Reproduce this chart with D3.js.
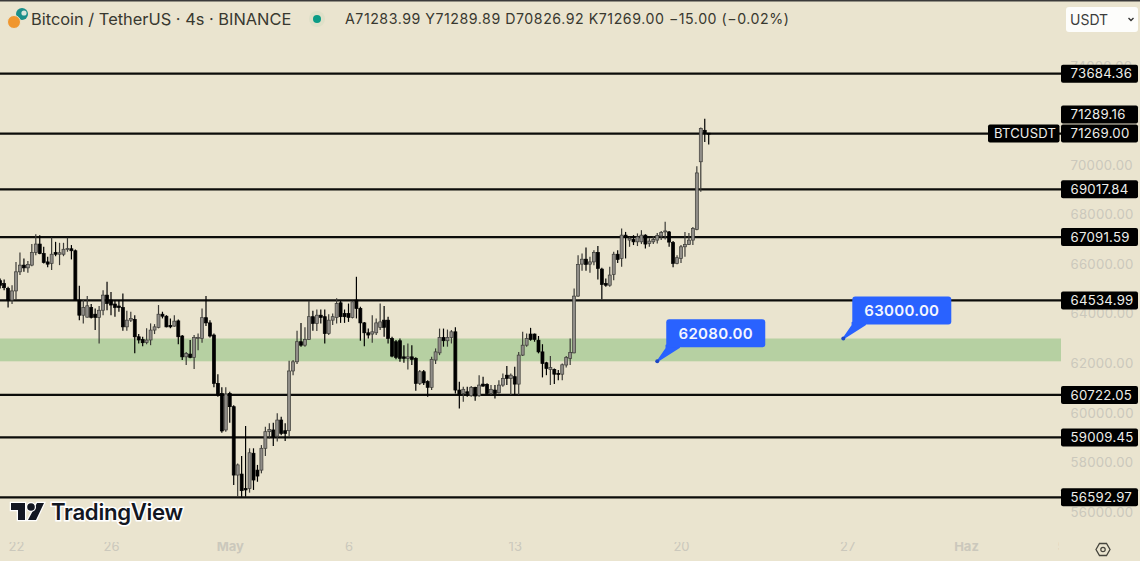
<!DOCTYPE html>
<html>
<head>
<meta charset="utf-8">
<script src="https://d3js.org/d3.v7.min.js"></script>
<style>
    html, body { margin: 0; padding: 0; background: #eae4cf; overflow: hidden; }
    svg { display: block; }
    text { font-family: "Inter", "Liberation Sans", sans-serif; }
</style>
</head>
<body>
<svg class="chart"></svg>
<script>
// 4h candles, first candle 21 Apr 08:00
var opens = [
    65330,65220,65020,64550,64920,65690,65960,65850,65960,66470,
    66810,66430,66090,66030,66470,66400,66400,66590,66620,66540,
    64550,63940,63860,64250,63980,63850,64140,64750,64550,64390,
    64310,64250,63470,63740,63770,63070,62960,62840,62940,63340,
    63450,63980,63900,63530,63500,63710,63100,62260,62370,62240,
    63000,63000,63840,63630,63140,61190,60780,59310,60780,60250,
    57490,57530,56950,56950,58370,57690,57690,58570,59240,59310,
    59060,59710,59280,59280,61690,62060,62870,62730,62960,63880,
    63610,63940,63880,63200,63740,63850,64440,64010,64010,63850,
    64550,64210,63630,63230,63180,63230,63450,63740,63740,63000,
    62870,62910,62260,62200,62260,62200,61190,61660,61260,61030,
    62130,62420,63040,62910,63040,63270,60920,60780,60850,60690,
    61030,60690,61160,61150,60780,60920,60810,61120,61520,61390,
    61460,61160,62330,62730,63180,63180,62930,62460,62020,61750,
    61750,61590,61560,61930,62200,62420,64710,66000,66200,66000,
    66090,66470,65800,65220,65150,65580,66400,66230,67170,66970,
    66990,66900,66900,67170,66830,66900,66970,67130,67300,67300,
    66870,66030,66230,66700,66790,66970,67400,70130,71400,71283.99];
var highs = [
    65420,65380,65090,65150,66090,66470,66230,66130,66810,67210,
    67170,66700,66300,67070,66900,66860,66860,67070,66770,66590,
    65130,64550,64710,64390,64210,64310,64950,65290,64880,64550,
    64550,64820,64120,64080,63940,63180,63070,63410,63610,63580,
    64350,64080,63940,63810,63940,63770,63140,62460,62940,63140,
    63200,64210,64710,63740,63200,61560,61030,61030,60850,60310,
    57960,58260,59470,58570,58570,57900,58700,59440,59580,59600,
    59980,59840,59580,62100,62130,63310,63630,63450,64520,64120,
    64170,64170,64170,63980,64010,64620,64520,64170,64410,64520,
    65490,64280,63670,63400,63940,63810,64410,64310,63880,63070,
    62940,63000,62730,62800,62730,62240,61730,61730,61320,62260,
    62600,63400,63400,63360,63340,63450,61260,61050,61050,61080,
    61050,61520,61460,61190,61120,61120,61320,61590,61890,61590,
    61860,62460,63270,63200,63430,63200,63100,62770,62060,62290,
    61790,61730,61990,62290,63000,65020,66360,66430,66670,66300,
    66560,66730,65850,65420,65890,66500,66560,67440,67300,67100,
    67170,67240,67370,67210,67040,67130,67260,67340,67710,67340,
    66930,66360,66770,67300,67260,67500,69950,71510,71870,71289.89];
var lows = [
    65020,64950,64250,64390,64550,65560,65690,65650,65920,66360,
    66400,66030,65870,65760,66320,65960,66320,66500,66190,64550,
    63740,63610,63850,63810,63340,62800,63940,64140,63940,63880,
    64080,63310,63310,63670,62400,62800,62690,62770,62730,63180,
    63410,63810,63450,63410,63470,62770,62130,61930,62200,61770,
    62530,62830,63500,63040,61030,60650,59200,59240,59600,57090,
    56620,56620,56620,56780,56890,57220,57560,58260,58970,58660,
    58840,59100,58860,59040,61520,61970,62670,62670,62940,63310,
    63300,63610,62800,63140,63540,63610,63630,63630,63670,63810,
    63810,62910,62690,63000,62830,63140,63340,63070,62800,62240,
    62160,62060,62020,61750,61930,60890,61120,61120,60650,60920,
    61970,62330,62670,62670,62800,60780,60180,60450,60650,60650,
    60490,60650,61050,60720,60720,60580,60780,61050,61120,60720,
    60720,60720,62290,62670,62910,62870,62400,61430,61520,61120,
    61160,61320,61320,61830,61930,62400,64680,65730,65730,65650,
    65960,65380,64580,65090,65090,65350,66050,65890,66230,66700,
    66770,66730,66810,66630,66700,66810,66830,66970,66990,66700,
    65870,66000,66050,66300,66770,66770,67370,68920,70930,70826.92];
var closes = [
    65150,65050,64550,64920,65690,65960,65850,65990,66470,66810,
    66430,66070,66000,66400,66400,66460,66600,66630,66540,64550,
    63940,64250,64320,63850,63850,64140,64750,64410,64350,64250,
    64250,63470,63740,63810,63070,62940,62830,62940,63340,63470,
    63980,63900,63470,63470,63700,63070,62260,62400,62240,63040,
    63040,63840,63630,63100,61190,60720,59270,60760,60250,57490,
    57900,56860,56890,58390,57290,57450,58570,59240,59330,59040,
    59710,59170,59170,61690,62060,62870,62730,62960,63880,63610,
    63940,63850,63200,63740,63880,64410,63880,63880,63850,64480,
    64210,63630,63230,63140,63270,63630,63670,63450,63000,62290,
    62240,62200,62200,62260,62160,61190,61660,61210,61030,62160,
    62460,63040,62910,63040,63270,60920,60760,60950,60780,61030,
    60680,61120,61080,60780,60950,60780,61120,61390,61390,61520,
    61160,62330,62730,63000,62960,62960,62460,61990,61790,61830,
    61560,61560,61940,62240,62440,64710,65990,66200,65990,66090,
    66470,65830,65180,65150,65560,66400,66190,67170,67080,67040,
    66900,67100,67170,66810,66930,66990,67160,67280,67340,66890,
    66030,66260,66700,66790,66970,67440,69680,71470,71300,71269];

var levels = [73684.36, 71269.00, 69017.84, 67091.59, 64534.99, 60722.05, 59009.45, 56592.97];
var priceTicks = [56000, 58000, 60000, 62000, 64000, 66000, 68000, 70000, 72000, 74000];
var zone = [62080, 63000];
var lastHigh = 71289.16;

var timeTicks = [Date.UTC(2024,3,22), Date.UTC(2024,3,26), Date.UTC(2024,4,1), Date.UTC(2024,4,6),
                 Date.UTC(2024,4,13), Date.UTC(2024,4,20), Date.UTC(2024,4,27), Date.UTC(2024,5,1), Date.UTC(2024,5,5)];
var timeLabels = ["22", "26", "May", "6", "13", "20", "27", "Haz", "5"];
var boldLabels = ["May", "Haz"];

var callouts = [
    {price: 62080, date: Date.UTC(2024,4,19), text: "62080.00"},
    {price: 63000, date: Date.UTC(2024,4,26,20), text: "63000.00"}
];

var svgWidth = 1140, svgHeight = 561, plotRight = 1061;
var firstCandle = Date.UTC(2024,3,21,8);

var xScale = d3.scaleUtc().domain([Date.UTC(2024,3,22), Date.UTC(2024,4,20)]).range([16, 681]);
var yScale = d3.scaleLinear().domain([56000, 70000]).range([512, 165]);

var candles = opens.map((o, i) => ({
    date: firstCandle + i * 4 * 3600 * 1000,
    open: o, high: highs[i], low: lows[i], close: closes[i]
}));

var svg = d3.select(".chart").attr("width", svgWidth).attr("height", svgHeight);

svg.append("rect").attr("width", svgWidth).attr("height", svgHeight).attr("fill", "#eae4cf");
svg.append("rect").attr("width", svgWidth).attr("height", 1.5).attr("fill", "#3a3a3a");

// support zone
svg.append("rect")
    .attr("x", 0).attr("width", plotRight)
    .attr("y", yScale(zone[1])).attr("height", yScale(zone[0]) - yScale(zone[1]))
    .attr("fill", "#b6d0a2");

// price axis, drawn first so the black tags sit on it
var yAxis = d3.axisRight(yScale).tickValues(priceTicks).tickSize(0).tickPadding(0)
    .tickFormat(d => d3.format(".2f")(d));
var yG = svg.append("g").attr("transform", "translate(1070.5,0)").call(yAxis);
yG.select(".domain").remove();
yG.selectAll("text").attr("fill", "#cbc8bc").attr("font-size", 13.2).attr("letter-spacing", 0.25)
    .style("font-family", "Inter, 'Liberation Sans', sans-serif");

// time axis
svg.append("clipPath").attr("id", "timeClip").append("rect").attr("width", 1059).attr("height", svgHeight);
var xAxis = d3.axisBottom(xScale).tickValues(timeTicks).tickSize(0).tickPadding(0)
    .tickFormat((d, i) => timeLabels[i]);
var xG = svg.append("g").attr("transform", "translate(0,542)").attr("clip-path", "url(#timeClip)").call(xAxis);
xG.select(".domain").remove();
xG.selectAll("text").attr("fill", "#cbc8bc").attr("font-size", 13)
    .attr("font-weight", (d, i) => boldLabels.includes(timeLabels[i]) ? 700 : 400)
    .style("font-family", "Inter, 'Liberation Sans', sans-serif");

// horizontal levels
svg.selectAll(".level").data(levels).enter().append("line")
    .attr("class", "level")
    .attr("x1", 0).attr("x2", plotRight)
    .attr("y1", d => yScale(d)).attr("y2", d => yScale(d))
    .attr("stroke", "#0c0c0a").attr("stroke-width", 2.2);

// candles
var candle = svg.selectAll(".candle").data(candles).enter().append("g").attr("class", "candle");
candle.append("line")
    .attr("x1", d => xScale(d.date)).attr("x2", d => xScale(d.date))
    .attr("y1", d => yScale(d.high)).attr("y2", d => yScale(d.low))
    .attr("stroke", d => d.close >= d.open ? "#3c3b37" : "#000")
    .attr("stroke-width", 1.2);
candle.append("rect")
    .attr("x", d => xScale(d.date) - 1.5).attr("width", 3)
    .attr("y", d => yScale(Math.max(d.open, d.close)))
    .attr("height", d => Math.max(1, Math.abs(yScale(d.open) - yScale(d.close))))
    .attr("fill", d => d.close >= d.open ? "#908d88" : "#000")
    .attr("stroke", d => d.close >= d.open ? "#3d3c38" : "#000")
    .attr("stroke-width", 0.7);

// callouts with the tail pointing at the price
var callout = svg.selectAll(".callout").data(callouts).enter().append("g").attr("class", "callout")
    .attr("transform", d => "translate(" + xScale(d.date) + "," + yScale(d.price) + ")");
callout.append("path")
    .attr("d", "M0,0 L9,-13 L9,-16 L22,-14 Z")
    .attr("fill", "#2962ff").attr("stroke", "#2962ff").attr("stroke-width", 1.5).attr("stroke-linejoin", "round");
callout.append("rect")
    .attr("x", 9).attr("y", -42).attr("width", 99).attr("height", 28).attr("rx", 3)
    .attr("fill", "#2962ff");
callout.append("circle").attr("r", 2).attr("fill", "#1c46c4");
callout.append("text")
    .attr("x", 58.5).attr("y", -22.5).attr("text-anchor", "middle")
    .attr("fill", "#f4f6ff").attr("font-size", 15).attr("font-weight", 600).attr("letter-spacing", 0.3)
    .text(d => d.text);

// black price tags
var tags = levels.map(d => ({y: yScale(d), text: d3.format(".2f")(d)}));
tags.push({y: yScale(lastHigh) - 18.5, text: d3.format(".2f")(lastHigh)});
svg.selectAll(".tag").data(tags).enter().append("rect")
    .attr("class", "tag")
    .attr("x", plotRight).attr("width", 77).attr("y", d => d.y - 9).attr("height", 18)
    .attr("rx", 2).attr("fill", "#000");
svg.selectAll(".tagText").data(tags).enter().append("text")
    .attr("class", "tagText")
    .attr("x", 1070.5).attr("y", d => d.y + 4.7)
    .attr("fill", "#eeeeea").attr("font-size", 13.2).attr("letter-spacing", 0.25)
    .text(d => d.text);

svg.append("rect").attr("x", 988).attr("width", 71.5)
    .attr("y", yScale(closes[closes.length - 1]) - 9).attr("height", 18)
    .attr("rx", 2).attr("fill", "#000");
svg.append("text").attr("x", 994).attr("y", yScale(closes[closes.length - 1]) + 4.7)
    .attr("fill", "#eeeeea").attr("font-size", 13).attr("letter-spacing", 0.2).text("BTCUSDT");

// header
svg.append("circle").attr("cx", 22).attr("cy", 14).attr("r", 6).attr("fill", "#1a8f8a");
svg.append("circle").attr("cx", 24).attr("cy", 13).attr("r", 2.6).attr("fill", "#d9e6dc");
svg.append("circle").attr("cx", 14).attr("cy", 22).attr("r", 6.5).attr("fill", "#f0962e")
    .attr("stroke", "#eae4cf").attr("stroke-width", 1);
svg.append("text").attr("x", 31).attr("y", 25)
    .attr("fill", "#38382f").attr("font-size", 16.4).text("Bitcoin / TetherUS · 4s · BINANCE");
svg.append("circle").attr("cx", 317).attr("cy", 19).attr("r", 8).attr("fill", "#dfe0c8");
svg.append("circle").attr("cx", 317).attr("cy", 19).attr("r", 4).attr("fill", "#0b9c86");
svg.append("text").attr("x", 345).attr("y", 24)
    .attr("fill", "#38382f").attr("font-size", 14.2).attr("letter-spacing", 0.53)
    .text("A" + d3.format(".2f")(opens[opens.length - 1]) + " Y" + d3.format(".2f")(highs[highs.length - 1])
        + " D" + d3.format(".2f")(lows[lows.length - 1]) + " K" + d3.format(".2f")(closes[closes.length - 1])
        + " −15.00 (−0.02%)");

// currency select
svg.append("rect").attr("x", 1066).attr("y", 7).attr("width", 72).attr("height", 25).attr("rx", 3).attr("fill", "#fdfdfb");
svg.append("text").attr("x", 1070).attr("y", 24.5).attr("fill", "#3c3c3c").attr("font-size", 14).text("USDT");
svg.append("path").attr("d", "M1128.5,18 L1131,20.5 L1133.5,18").attr("fill", "none").attr("stroke", "#333").attr("stroke-width", 1.4);

// settings cog
svg.append("path").attr("d", "M1096,549.5 L1099.5,543.5 L1106.5,543.5 L1110,549.5 L1106.5,555.5 L1099.5,555.5 Z")
    .attr("fill", "none").attr("stroke", "#45443c").attr("stroke-width", 1.3);
svg.append("circle").attr("cx", 1103).attr("cy", 549.5).attr("r", 2.2).attr("fill", "none").attr("stroke", "#45443c").attr("stroke-width", 1.2);

// logo
var logo = svg.append("g");
logo.append("path").attr("d", "M11,503 H25 V520 H18 V510 H11 Z M37,503 H44 L36,520 H28 Z").attr("fill", "#131722")
    .attr("stroke", "#fff").attr("stroke-width", 2.5).attr("paint-order", "stroke");
logo.append("circle").attr("cx", 31).attr("cy", 507).attr("r", 3.8).attr("fill", "#131722")
    .attr("stroke", "#fff").attr("stroke-width", 2.5).attr("paint-order", "stroke");
logo.append("text").attr("x", 51).attr("y", 520)
    .attr("fill", "#131722").attr("font-size", 22.2).attr("font-weight", 600).attr("letter-spacing", -0.3)
    .attr("stroke", "#fff").attr("stroke-width", 3).attr("paint-order", "stroke").text("TradingView");
</script>
</body>
</html>
